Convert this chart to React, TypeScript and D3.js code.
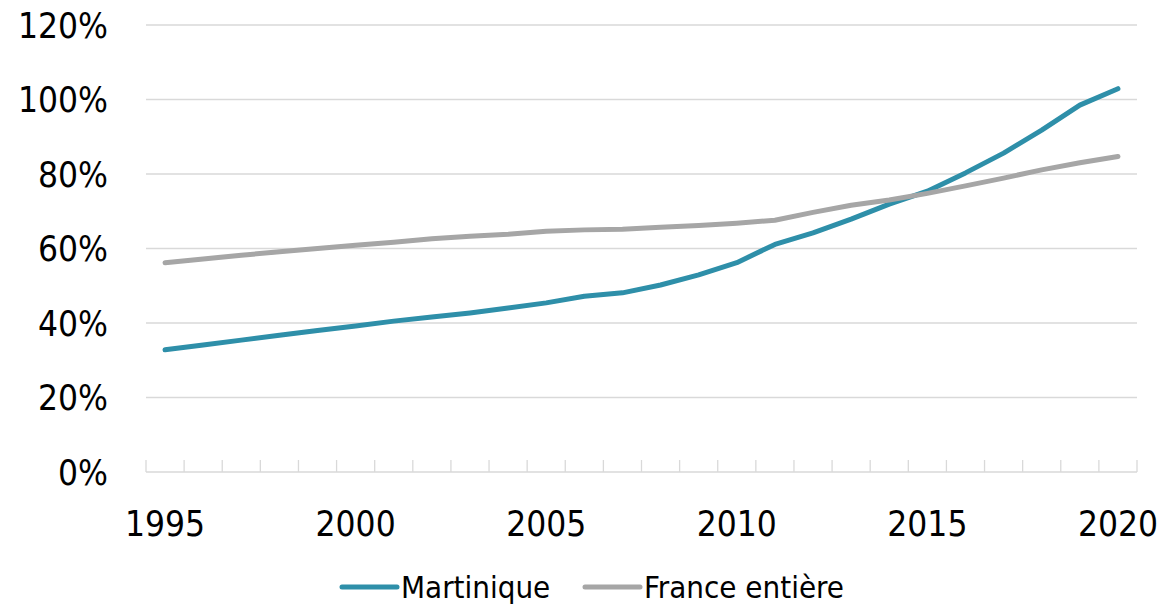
import * as d3 from "d3";

const years = d3.range(1995, 2021);
const yearLabels = [1995, 2000, 2005, 2010, 2015, 2020];
const yTicks = [0, 20, 40, 60, 80, 100, 120];

const martinique = [
  32.8, 34.1, 35.4, 36.7, 38.0, 39.2, 40.5, 41.6, 42.7, 44.0, 45.4, 47.2, 48.1,
  50.2, 52.9, 56.2, 61.1, 64.2, 67.9, 71.9, 75.4, 80.3, 85.6, 91.8, 98.5, 102.9,
];
const france = [
  56.2, 57.2, 58.2, 59.1, 60.0, 60.9, 61.7, 62.6, 63.3, 63.8, 64.6, 65.0, 65.2,
  65.7, 66.2, 66.8, 67.6, 69.7, 71.6, 73.0, 74.8, 76.8, 78.9, 81.1, 83.0, 84.7,
];

const series = [
  { name: "Martinique", values: martinique, color: "#2E8FA9" },
  { name: "France entière", values: france, color: "#A6A6A6" },
];

const width = 1165;
const height = 606;
const margin = { top: 25, right: 28, bottom: 134, left: 146 };
const font = "'DejaVu Sans Condensed', 'DejaVu Sans', sans-serif";

export default function App() {
  const x = d3
    .scaleBand<number>()
    .domain(years)
    .range([margin.left, width - margin.right]);
  const y = d3
    .scaleLinear()
    .domain([0, 120])
    .range([height - margin.bottom, margin.top]);
  const cx = (yr: number) => (x(yr) ?? 0) + x.bandwidth() / 2;
  const bottom = y(0);

  const line = d3
    .line<number>()
    .x((_, i) => cx(years[i]))
    .y((d) => y(d));

  const legendItems = [
    { ...series[0], x: 342 },
    { ...series[1], x: 585 },
  ];

  return (
    <svg
      width={width}
      height={height}
      style={{ position: "absolute", left: 0, top: 0, background: "#fff" }}
      fontFamily={font}
      fontStretch="condensed"
    >
      {/* gridlines */}
      {yTicks
        .filter((t) => t > 0)
        .map((t) => (
          <line
            key={t}
            x1={margin.left}
            x2={width - margin.right}
            y1={y(t)}
            y2={y(t)}
            stroke="#D9D9D9"
            strokeWidth={1.3}
          />
        ))}
      {/* x axis */}
      <line
        x1={margin.left}
        x2={width - margin.right}
        y1={bottom}
        y2={bottom}
        stroke="#D9D9D9"
        strokeWidth={1.3}
      />
      {[...years, 2021].map((yr, i) => {
        const tx = i < years.length ? x(yr) ?? 0 : width - margin.right;
        return (
          <line
            key={yr}
            x1={tx}
            x2={tx}
            y1={bottom}
            y2={bottom - 12}
            stroke="#D9D9D9"
            strokeWidth={1.3}
          />
        );
      })}
      {/* y labels */}
      {yTicks.map((t) => (
        <text
          key={t}
          x={108}
          y={y(t)}
          dy="0.36em"
          textAnchor="end"
          fontSize={35}
          fill="#000"
        >
          {t}%
        </text>
      ))}
      {/* x labels */}
      {yearLabels.map((yr) => (
        <text
          key={yr}
          x={cx(yr)}
          y={536}
          textAnchor="middle"
          fontSize={35}
          fill="#000"
        >
          {yr}
        </text>
      ))}
      {/* lines */}
      {series.map((s) => (
        <path
          key={s.name}
          d={line(s.values) ?? ""}
          fill="none"
          stroke={s.color}
          strokeWidth={5}
          strokeLinecap="round"
          strokeLinejoin="round"
        />
      ))}
      {/* legend */}
      {legendItems.map((s) => (
        <g key={s.name} transform={`translate(${s.x},587)`}>
          <line x1={0} x2={55} y1={0} y2={0} stroke={s.color} strokeWidth={5} strokeLinecap="round" />
          <text x={59} y={11} fontSize={31} fill="#000">
            {s.name}
          </text>
        </g>
      ))}
    </svg>
  );
}
